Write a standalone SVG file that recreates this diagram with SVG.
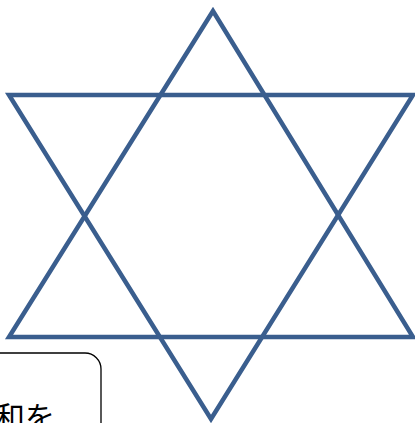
<svg xmlns="http://www.w3.org/2000/svg" width="415" height="423" viewBox="0 0 415 423">
<style>
.tri{fill:none;stroke:#3A5E8E;stroke-width:4.5;stroke-linejoin:miter;stroke-miterlimit:10}
.box{fill:#fff;stroke:#000;stroke-width:1.3}
.lbl{font-family:"Noto Sans CJK JP","Noto Sans CJK SC",sans-serif;font-size:30px;fill:#000}
</style>
<rect width="415" height="423" fill="#fff"/>
<g id="star">
<polygon class="tri" points="213,11 9,337 413,337"/>
<polygon class="tri" points="9,95 413,95 211,419"/>
</g>
<g id="note">
<rect class="box" x="-20" y="353" width="121" height="100" rx="16" ry="16"/>
<text class="lbl" x="-5" y="428">和を</text>
</g>
</svg>
